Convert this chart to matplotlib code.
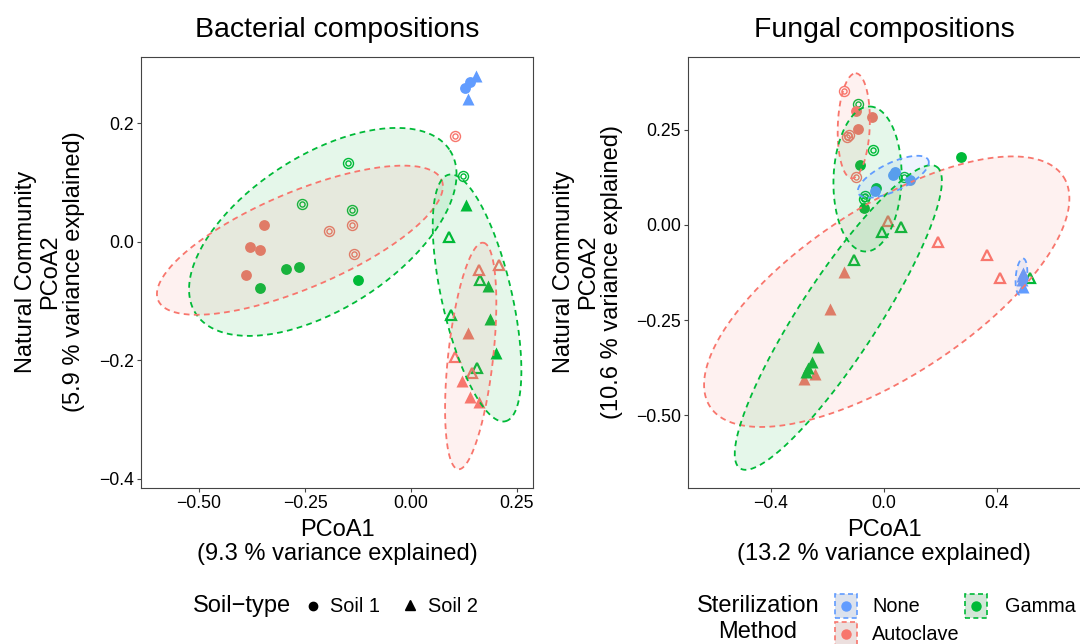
import matplotlib
matplotlib.use("Agg")
import matplotlib.pyplot as plt
import numpy as np
from matplotlib.patches import Rectangle
from matplotlib.lines import Line2D

plt.rcParams['font.family'] = ['Liberation Sans', 'DejaVu Sans']

COLORS = {'None': '#619CFF', 'Autoclave': '#F8766D', 'Gamma': '#00BA38'}

# Bacterial PCoA scores: x, y, sterilization, soil (1/2), hollow marker (0/1)
bac_x = [0.127, 0.139, 0.134, 0.153,
         0.105, -0.138, -0.193, -0.134,
         -0.149, 0.123, -0.256, -0.139,
         -0.347, -0.380, -0.356, -0.390,
         -0.295, -0.265, -0.356, -0.126,
         0.131, 0.181, 0.186, 0.200,
         0.090, 0.164, 0.094, 0.157,
         0.160, 0.208, 0.105, 0.144,
         0.135, 0.120, 0.139, 0.160]
bac_y = [0.260, 0.270, 0.241, 0.280,
         0.179, 0.029, 0.019, -0.020,
         0.134, 0.111, 0.064, 0.054,
         0.028, -0.009, -0.013, -0.056,
         -0.045, -0.042, -0.078, -0.064,
         0.062, -0.075, -0.130, -0.187,
         0.008, -0.064, -0.124, -0.212,
         -0.048, -0.038, -0.194, -0.221,
         -0.153, -0.235, -0.261, -0.270]
bac_steril = (['None'] * 4 + ['Autoclave'] * 4 + ['Gamma'] * 4 + ['Autoclave'] * 4
              + ['Gamma'] * 4 + ['Gamma'] * 8 + ['Autoclave'] * 8)
bac_soil = [1, 1, 2, 2] + [1] * 16 + [2] * 16
bac_hollow = [0] * 4 + [1] * 8 + [0] * 8 + [0] * 4 + [1] * 4 + [1] * 4 + [0] * 4

# Fungal PCoA scores
fun_x = [-0.140, -0.124, -0.132, -0.098,
         -0.093, -0.040, 0.072, -0.067, -0.070,
         -0.100, -0.044, -0.093,
         -0.086, -0.028, -0.071, 0.273,
         0.039, 0.033, 0.092, -0.032,
         0.015, 0.190, 0.365, 0.411,
         -0.008, 0.059, -0.105, 0.517,
         -0.143, -0.190, -0.244, -0.282,
         -0.235, -0.254, -0.268, -0.277,
         0.493, 0.487, 0.493, 0.490]
fun_y = [0.353, 0.237, 0.232, 0.127,
         0.318, 0.197, 0.126, 0.075, 0.068,
         0.301, 0.283, 0.253,
         0.159, 0.097, 0.046, 0.180,
         0.139, 0.132, 0.118, 0.089,
         0.011, -0.044, -0.079, -0.140,
         -0.018, -0.004, -0.092, -0.140,
         -0.124, -0.221, -0.392, -0.405,
         -0.322, -0.360, -0.377, -0.386,
         -0.127, -0.145, -0.162, -0.135]
fun_steril = (['Autoclave'] * 4 + ['Gamma'] * 5 + ['Autoclave'] * 3 + ['Gamma'] * 4
              + ['None'] * 4 + ['Autoclave'] * 4 + ['Gamma'] * 4 + ['Autoclave'] * 4
              + ['Gamma'] * 4 + ['None'] * 4)
fun_soil = [1] * 20 + [2] * 20
fun_hollow = [1] * 9 + [0] * 11 + [1] * 8 + [0] * 12

# 95% ellipses: sterilization, centre x, centre y, half-axis A (dx, dy), half-axis B (dx, dy)
bac_ell = [('Gamma', -0.208, 0.017, 0.300, 0.1376, 0.098, -0.109),
           ('Autoclave', -0.262, 0.003, 0.3345, 0.1014, 0.0442, -0.0746),
           ('Gamma', 0.156, -0.0945, 0.0668, -0.2081, 0.0805, 0.0132),
           ('Autoclave', 0.141, -0.1924, 0.0295, 0.1912, 0.0528, -0.0042)]
fun_ell = [('Autoclave', 0.0096, -0.1755, 0.6255, 0.3026, 0.1643, -0.1874),
           ('Gamma', -0.1618, -0.2434, 0.348, 0.3968, 0.1157, -0.0560),
           ('Autoclave', -0.107, 0.261, 0.0071, 0.1382, 0.0566, -0.0016),
           ('Gamma', -0.0584, 0.121, 0.0088, 0.1908, 0.1204, -0.0032),
           ('None', 0.033, 0.127, 0.1239, 0.0439, 0.0213, -0.0333),
           ('None', 0.4866, -0.136, 0.006, 0.048, 0.0200, -0.0013)]


def draw_points(ax, xs, ys, steril, soil, hollow):
    for x, y, s, so, h in zip(xs, ys, steril, soil, hollow):
        c = COLORS[s]
        if so == 1 and not h:
            ax.plot(x, y, 'o', ms=7.8, color=c, mec='none', zorder=2)
        elif so == 1:
            ax.plot(x, y, 'o', ms=7.2, mfc='none', mec=c, mew=1.0, zorder=2)
            ax.plot(x, y, 'o', ms=3.7, mfc='none', mec=c, mew=1.0, zorder=2)
        elif not h:
            ax.plot(x, y, '^', ms=8.6, color=c, mec='none', zorder=2)
        else:
            ax.plot(x, y, '^', ms=7.4, mfc='none', mec=c, mew=1.6, zorder=2)


def draw_ellipses(ax, ells):
    t = np.linspace(0, 2 * np.pi, 200)
    for s, cx, cy, ax_, ay_, bx_, by_ in ells:
        ex = cx + ax_ * np.cos(t) + bx_ * np.sin(t)
        ey = cy + ay_ * np.cos(t) + by_ * np.sin(t)
        ax.fill(ex, ey, color=COLORS[s], alpha=0.1, lw=0, zorder=3)
        ax.plot(ex, ey, color=COLORS[s], lw=1.3, ls=(0, (3.2, 2.4)), zorder=4)


def style(ax):
    for sp in ax.spines.values():
        sp.set_color('#444444')
        sp.set_linewidth(0.8)
    ax.tick_params(length=3, width=0.8, color='#444444', labelsize=12.7,
                   labelcolor='black', pad=2)


fig = plt.figure(figsize=(10.8, 6.44), dpi=100)
ax1 = fig.add_axes([141 / 1080, 1 - 488 / 644, 392 / 1080, 431 / 644])
ax2 = fig.add_axes([688 / 1080, 1 - 488 / 644, 394 / 1080, 431 / 644])

draw_points(ax1, bac_x, bac_y, bac_steril, bac_soil, bac_hollow)
draw_ellipses(ax1, bac_ell)
ax1.set_xlim(-0.637, 0.288)
ax1.set_ylim(-0.4152, 0.3122)
ax1.set_xticks([-0.50, -0.25, 0.00, 0.25])
ax1.set_xticklabels(['\u22120.50', '\u22120.25', '0.00', '0.25'])
ax1.set_yticks([-0.4, -0.2, 0.0, 0.2])
ax1.set_yticklabels(['\u22120.4', '\u22120.2', '0.0', '0.2'])
style(ax1)

draw_points(ax2, fun_x, fun_y, fun_steril, fun_soil, fun_hollow)
draw_ellipses(ax2, fun_ell)
ax2.set_xlim(-0.694, 0.701)
ax2.set_ylim(-0.692, 0.442)
ax2.set_xticks([-0.4, 0.0, 0.4])
ax2.set_xticklabels(['\u22120.4', '0.0', '0.4'])
ax2.set_yticks([-0.50, -0.25, 0.00, 0.25])
ax2.set_yticklabels(['\u22120.50', '\u22120.25', '0.00', '0.25'])
style(ax2)

fig.text(337 / 1080, 1 - 30 / 644, 'Bacterial compositions', ha='center', va='center', fontsize=20.4)
fig.text(884 / 1080, 1 - 30 / 644, 'Fungal compositions', ha='center', va='center', fontsize=20.4)

fig.text(337 / 1080, 1 - 542 / 644, 'PCoA1\n(9.3 % variance explained)', ha='center', va='center',
         fontsize=17, linespacing=1.1)
fig.text(884 / 1080, 1 - 542 / 644, 'PCoA1\n(13.2 % variance explained)', ha='center', va='center',
         fontsize=17, linespacing=1.1)
fig.text(50 / 1080, 1 - 272 / 644, 'Natural Community\nPCoA2\n(5.9 % variance explained)',
         ha='center', va='center', rotation=90, fontsize=17, linespacing=1.1)
fig.text(588 / 1080, 1 - 272 / 644, 'Natural Community\nPCoA2\n(10.6 % variance explained)',
         ha='center', va='center', rotation=90, fontsize=17, linespacing=1.1)

# soil-type legend
fig.text(193 / 1080, 1 - 606 / 644, 'Soil\u2212type', ha='left', va='center', fontsize=17)
fig.add_artist(Line2D([313 / 1080], [1 - 606 / 644], marker='o', ms=6, color='black', ls='none'))
fig.text(330 / 1080, 1 - 606 / 644, 'Soil 1', ha='left', va='center', fontsize=14.3)
fig.add_artist(Line2D([410 / 1080], [1 - 605 / 644], marker='^', ms=6.5, color='black', ls='none'))
fig.text(428 / 1080, 1 - 606 / 644, 'Soil 2', ha='left', va='center', fontsize=14.3)

# sterilization legend
fig.text(758 / 1080, 1 - 619 / 644, 'Sterilization\nMethod', ha='center', va='center',
         fontsize=17, linespacing=1.2)
keys = [('None', 835, 594, 872), ('Autoclave', 835, 622, 872), ('Gamma', 965, 594, 1005)]
for name, kx, ky, tx in keys:
    c = COLORS[name]
    fig.add_artist(Rectangle((kx / 1080, 1 - (ky + 24) / 644), 22 / 1080, 24 / 644,
                             facecolor='#EBEBEB', edgecolor='none'))
    fig.add_artist(Rectangle((kx / 1080, 1 - (ky + 24) / 644), 22 / 1080, 24 / 644,
                             facecolor=c, alpha=0.1, edgecolor='none'))
    fig.add_artist(Rectangle((kx / 1080, 1 - (ky + 24) / 644), 22 / 1080, 24 / 644,
                             facecolor='none', edgecolor=c, lw=1.2, ls=(0, (3, 2))))
    fig.add_artist(Line2D([(kx + 11) / 1080], [1 - (ky + 12) / 644], marker='o', ms=6.5,
                          color=c, ls='none'))
    fig.text(tx / 1080, 1 - (ky + 12) / 644, name, ha='left', va='center', fontsize=14.3)

fig.savefig('out.png', dpi=100)
